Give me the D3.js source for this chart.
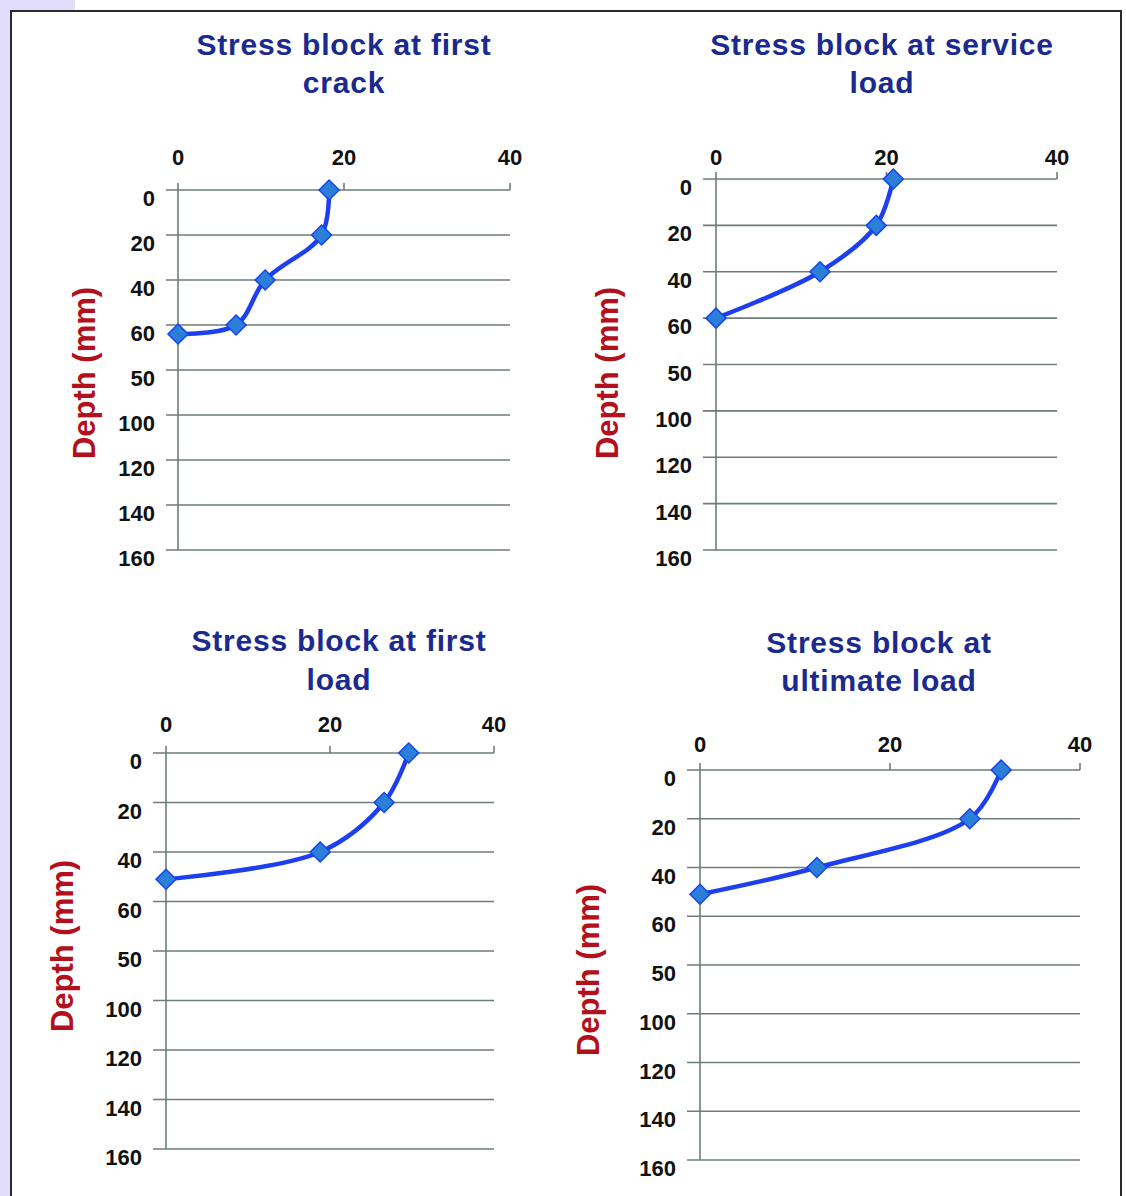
<!DOCTYPE html>
<html><head><meta charset="utf-8">
<script src="https://cdn.jsdelivr.net/npm/d3@7"></script>
<style>
html,body{margin:0;padding:0;background:#fff;}
svg{display:block;font-family:"Liberation Sans",Arial,sans-serif;}
</style></head>
<body><svg id="c" width="1126" height="1196"></svg>
<script>
// ---- data ----
const depthTicks = [0, 20, 40, 60, 80, 100, 120, 140, 160];
const depthLabels = ["0", "20", "40", "60", "50", "100", "120", "140", "160"];
const stressTicks = [0, 20, 40];
const titles = [
  ["Stress block at first", "crack"],
  ["Stress block at service", "load"],
  ["Stress block at first", "load"],
  ["Stress block at", "ultimate load"]
];
const axisTitle = "Depth (mm)";
const firstCrackStress = [18.2, 17.3, 10.5, 7.0, 0];
const firstCrackDepth  = [0, 20, 40, 60, 64];
const serviceStress = [20.8, 18.8, 12.2, 0];
const serviceDepth  = [0, 20, 40, 60];
const firstLoadStress = [29.6, 26.6, 18.8, 0];
const firstLoadDepth  = [0, 20, 40, 51];
const ultimateStress = [31.7, 28.4, 12.3, 0];
const ultimateDepth  = [0, 20, 40, 51];

const series = [
  [firstCrackStress, firstCrackDepth],
  [serviceStress, serviceDepth],
  [firstLoadStress, firstLoadDepth],
  [ultimateStress, ultimateDepth]
];

// ---- layout (styles/positions) ----
const layout = [
  {x0:178, x1:510, y0:190, y1:550, gl:166, topLab:165, tx:344, ty:[55,93], ax:[84,373]},
  {x0:716, x1:1057, y0:179, y1:550, gl:703, topLab:165, tx:882, ty:[55,93], ax:[607,373]},
  {x0:166, x1:494, y0:753, y1:1149, gl:153, topLab:732, tx:339, ty:[651,690], ax:[62,946]},
  {x0:700, x1:1080, y0:770, y1:1160, gl:687, topLab:752, tx:879, ty:[653,691], ax:[588,970]}
];

const svg = d3.select("#c");
// frame
svg.append("rect").attr("x",0).attr("y",0).attr("width",11).attr("height",1196).attr("fill","#e1ddfb");
svg.append("rect").attr("x",0).attr("y",0).attr("width",75).attr("height",10).attr("fill","#e1ddfb");
svg.append("path").attr("d","M11,1196 V11 H1121 V1196").attr("fill","none").attr("stroke","#2a2a2a").attr("stroke-width",2);

const gridCol = "#6e7d7a";
const titleCol = "#1b2a8e";
const axCol = "#b3101c";

series.forEach(([xs, ys], i) => {
  const L = layout[i];
  const x = d3.scaleLinear().domain([0, 40]).range([L.x0, L.x1]);
  const y = d3.scaleLinear().domain([0, 160]).range([L.y0, L.y1]);
  const g = svg.append("g");

  // horizontal gridlines
  g.selectAll("line.h").data(depthTicks).join("line")
    .attr("x1", L.gl).attr("x2", x(40))
    .attr("y1", d => y(d)).attr("y2", d => y(d))
    .attr("stroke", gridCol).attr("stroke-width", 1.6);
  // vertical axis
  g.append("line").attr("x1", x(0)).attr("x2", x(0)).attr("y1", y(0) - 7).attr("y2", y(160))
    .attr("stroke", gridCol).attr("stroke-width", 1.6);
  // top ticks
  g.selectAll("line.t").data(stressTicks.slice(1)).join("line")
    .attr("x1", d => x(d)).attr("x2", d => x(d)).attr("y1", y(0) - 7).attr("y2", y(0))
    .attr("stroke", gridCol).attr("stroke-width", 1.6);
  // top tick labels
  g.selectAll("text.xt").data(stressTicks).join("text")
    .attr("x", d => x(d)).attr("y", L.topLab)
    .attr("text-anchor", "middle").attr("font-size", 22).attr("font-weight", "bold").attr("fill", "#111")
    .text(d => d);
  // depth labels
  g.selectAll("text.yt").data(depthTicks).join("text")
    .attr("x", L.gl - 11).attr("y", d => y(d) + 16)
    .attr("text-anchor", "end").attr("font-size", 22).attr("font-weight", "bold").attr("fill", "#111")
    .text((d, k) => depthLabels[k]);
  // title
  g.append("text").attr("text-anchor", "middle").attr("font-size", 30).attr("font-weight", "bold")
    .attr("letter-spacing", 0.8).attr("fill", titleCol)
    .selectAll("tspan").data(titles[i]).join("tspan")
    .attr("x", L.tx).attr("y", (d, k) => L.ty[k]).text(d => d);
  // axis title
  g.append("text").attr("transform", `translate(${L.ax[0]},${L.ax[1]}) rotate(-90)`)
    .attr("text-anchor", "middle").attr("dy", "0.36em").attr("font-size", 31).attr("font-weight", "bold").attr("fill", axCol)
    .text(axisTitle);

  const pts = xs.map((v, k) => [x(v), y(ys[k])]);
  const line = d3.line().curve(d3.curveCatmullRom.alpha(0.5));
  g.append("path").attr("d", line(pts)).attr("fill", "none").attr("stroke", "#1e3ff0").attr("stroke-width", 4.5);
  g.selectAll("path.m").data(pts).join("path")
    .attr("d", d => `M${d[0]},${d[1]-10} L${d[0]+10},${d[1]} L${d[0]},${d[1]+10} L${d[0]-10},${d[1]} Z`)
    .attr("fill", "#2b7fd8").attr("stroke", "#1545f0").attr("stroke-width", 1.5);
});
</script></body></html>
